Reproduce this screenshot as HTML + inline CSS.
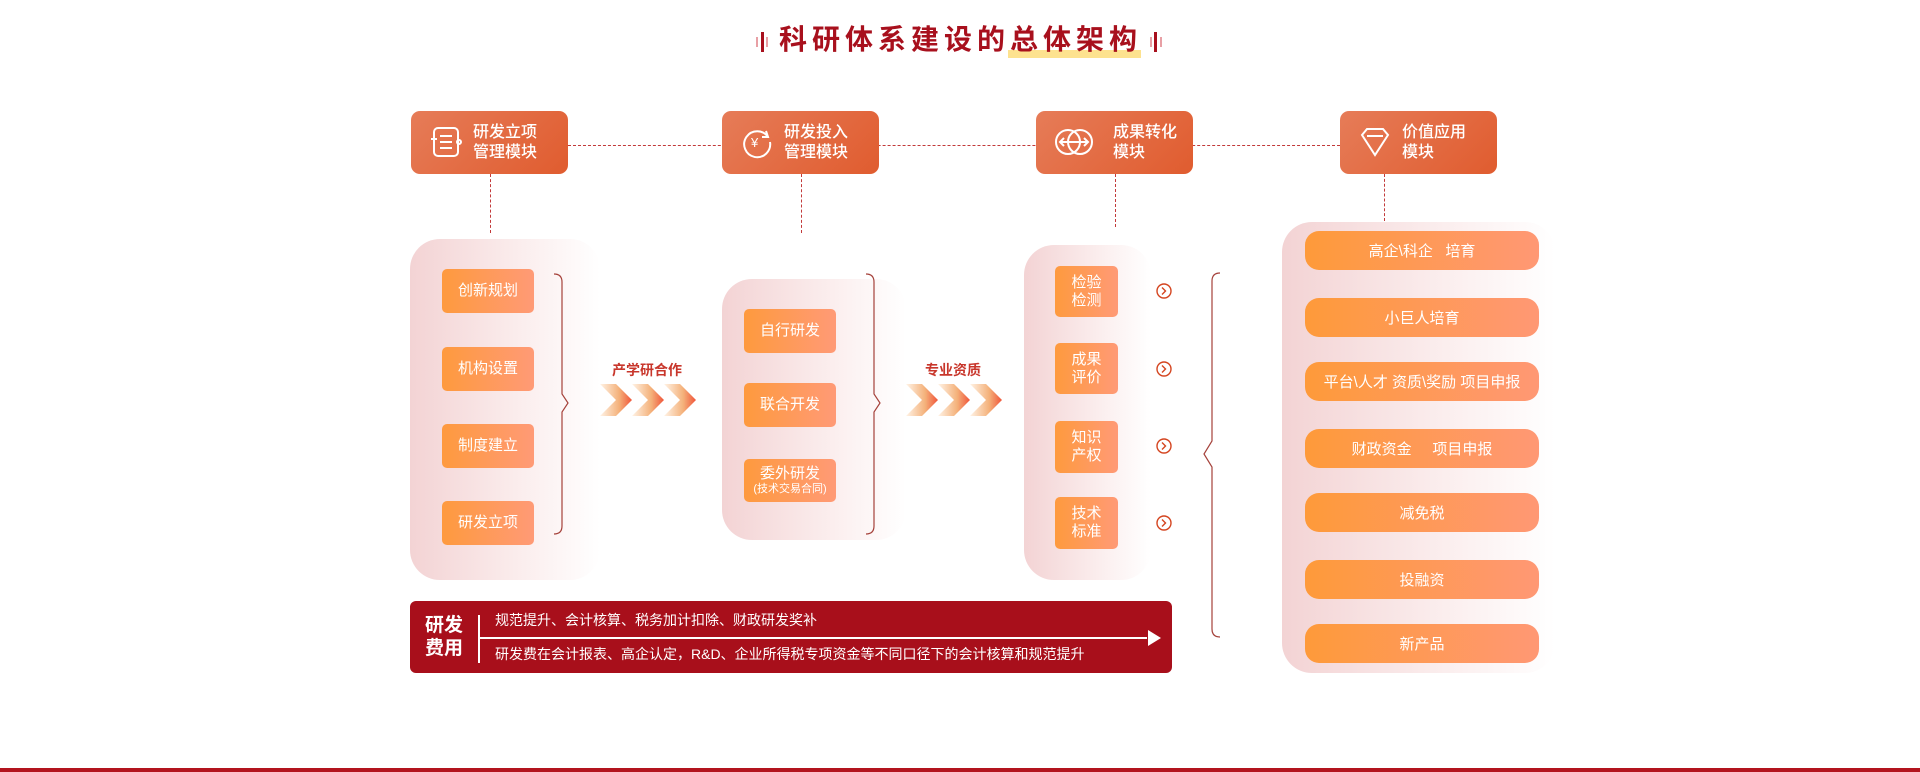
<!DOCTYPE html>
<html><head><meta charset="utf-8"><style>
*{margin:0;padding:0;box-sizing:border-box}
body{width:1920px;height:772px;background:#fff;position:relative;overflow:hidden;font-family:"Liberation Sans","Noto Sans CJK SC",sans-serif}
.a{position:absolute}
.mod{position:absolute;top:111px;width:157px;height:63px;border-radius:9px;background:linear-gradient(135deg,#e67c58,#e05c2f);color:#fff;font-size:16px;line-height:20px;font-weight:500}
.mod .t{position:absolute;left:62px;top:12px}
.mod svg{position:absolute;left:18px;top:14px}
.panel{position:absolute;border-radius:30px;background:linear-gradient(90deg,#f3d3d4,#fbeeee 60%,#fff)}
.it{position:absolute;border-radius:5px;background:linear-gradient(90deg,#fe9a3e,#ff9a76);color:#fff;font-size:15px;display:flex;align-items:center;justify-content:center;text-align:center;line-height:18px}
.pill{position:absolute;left:1305px;width:234px;height:39px;border-radius:14px;background:linear-gradient(90deg,#fe9a3a,#ff9874);color:#fff;font-size:15px;display:flex;align-items:center;justify-content:center;white-space:pre}
.vd{position:absolute;width:0;border-left:1.3px dashed #c23a3a}
.lbl{position:absolute;color:#c8362b;font-size:14px;font-weight:bold;transform:translateX(-50%)}
</style></head><body>
<!-- title -->
<div class="a" style="left:1008px;top:50px;width:133px;height:8px;background:#fde28f"></div>
<div class="a" style="left:779px;top:20px;width:370px;font-size:28px;font-weight:bold;color:#a8101d;letter-spacing:5px;line-height:40px;white-space:nowrap">科研体系建设的总体架构</div>
<svg class="a" style="left:756px;top:31px" width="14" height="22"><rect x="0" y="6" width="2" height="10" fill="#e8a0a5"/><rect x="5" y="1" width="3" height="20" fill="#a8101d"/><rect x="10" y="6" width="2" height="10" fill="#e8a0a5"/></svg>
<svg class="a" style="left:1150px;top:31px" width="14" height="22"><rect x="0" y="6" width="2" height="10" fill="#e8a0a5"/><rect x="4" y="1" width="3" height="20" fill="#a8101d"/><rect x="10" y="6" width="2" height="10" fill="#e8a0a5"/></svg>

<!-- dashed horizontal -->
<div class="a" style="left:568px;top:145px;width:772px;border-top:1.3px dashed #c23a3a"></div>
<div class="vd" style="left:490px;top:174px;height:59px"></div>
<div class="vd" style="left:801px;top:174px;height:59px"></div>
<div class="vd" style="left:1115px;top:174px;height:53px"></div>
<div class="vd" style="left:1384px;top:174px;height:47px"></div>

<div class="mod" style="left:411px"><svg width="34" height="34" viewBox="0 0 34 34" fill="none" stroke="#fff" stroke-width="2"><rect x="5" y="3" width="24" height="28" rx="4"/><line x1="11" y1="11" x2="23" y2="11"/><line x1="11" y1="17" x2="23" y2="17"/><line x1="11" y1="23" x2="23" y2="23"/><line x1="2" y1="14" x2="8" y2="14"/><circle cx="30" cy="17" r="2"/></svg><div class="t">研发立项<br>管理模块</div></div>
<div class="mod" style="left:722px"><svg width="34" height="34" viewBox="0 0 34 34" fill="none" stroke="#fff" stroke-width="2"><path d="M28 12 A13 13 0 1 0 30 17"/><path d="M26 6 L28 12 L22 12"/><text x="11" y="22" font-size="13" fill="#fff" stroke="none" font-family="Liberation Sans">¥</text></svg><div class="t">研发投入<br>管理模块</div></div>
<div class="mod" style="left:1036px"><svg width="40" height="34" viewBox="0 0 40 34" fill="none" stroke="#fff" stroke-width="2"><circle cx="14" cy="17" r="12"/><circle cx="26" cy="17" r="12"/><line x1="6" y1="17" x2="34" y2="17"/><path d="M10 13 L6 17 L10 21 M30 13 L34 17 L30 21"/></svg><div class="t" style="left:77px">成果转化<br>模块</div></div>
<div class="mod" style="left:1340px"><svg width="34" height="34" viewBox="0 0 34 34" fill="none" stroke="#fff" stroke-width="2"><path d="M4 10 L9 4 H25 L30 10 L17 30 Z"/><line x1="9" y1="11" x2="25" y2="11"/></svg><div class="t">价值应用<br>模块</div></div>

<!-- panel 1 -->
<div class="panel" style="left:410px;top:239px;width:190px;height:341px"></div>
<div class="it" style="left:442px;top:269px;width:92px;height:44px">创新规划</div>
<div class="it" style="left:442px;top:347px;width:92px;height:44px">机构设置</div>
<div class="it" style="left:442px;top:424px;width:92px;height:44px">制度建立</div>
<div class="it" style="left:442px;top:501px;width:92px;height:44px">研发立项</div>
<svg class="a" style="left:552px;top:272px" width="26" height="266"><path d="M2 2 Q10 2 10 10 V122 L16 131 L10 140 V254 Q10 262 2 262" fill="none" stroke="#a5413a" stroke-width="1.2"/></svg>
<div class="lbl" style="left:647px;top:360px">产学研合作</div>
<svg class="a" style="left:600px;top:384px" width="100" height="32"><defs><linearGradient id="g1" x1="0" x2="1"><stop offset="0" stop-color="#fff3e6"/><stop offset=".6" stop-color="#f4b17a"/><stop offset="1" stop-color="#f0553a"/></linearGradient></defs>
<g fill="url(#g1)"><path d="M0 0H16L32 16L16 32H0L16 16Z"/><path d="M32 0H48L64 16L48 32H32L48 16Z"/><path d="M64 0H80L96 16L80 32H64L80 16Z"/></g>
<g fill="none" stroke="#fff" stroke-width="1"><path d="M20 0L36 16L20 32M52 0L68 16L52 32M84 0L100 16L84 32"/></g></svg>

<!-- panel 2 -->
<div class="panel" style="left:722px;top:279px;width:184px;height:261px"></div>
<div class="it" style="left:744px;top:309px;width:92px;height:44px">自行研发</div>
<div class="it" style="left:744px;top:383px;width:92px;height:44px">联合开发</div>
<div class="it" style="left:744px;top:459px;width:92px;height:43px;flex-direction:column"><span>委外研发</span><span style="font-size:11px;line-height:13px">(技术交易合同)</span></div>
<svg class="a" style="left:864px;top:272px" width="26" height="266"><path d="M2 2 Q10 2 10 10 V122 L16 131 L10 140 V254 Q10 262 2 262" fill="none" stroke="#a5413a" stroke-width="1.2"/></svg>
<div class="lbl" style="left:953px;top:360px">专业资质</div>
<svg class="a" style="left:906px;top:384px" width="100" height="32"><g fill="url(#g1)"><path d="M0 0H16L32 16L16 32H0L16 16Z"/><path d="M32 0H48L64 16L48 32H32L48 16Z"/><path d="M64 0H80L96 16L80 32H64L80 16Z"/></g>
<g fill="none" stroke="#fff" stroke-width="1"><path d="M20 0L36 16L20 32M52 0L68 16L52 32M84 0L100 16L84 32"/></g></svg>

<!-- panel 3 -->
<div class="panel" style="left:1024px;top:245px;width:127px;height:335px"></div>
<div class="it" style="left:1055px;top:266px;width:63px;height:51px">检验<br>检测</div>
<div class="it" style="left:1055px;top:343px;width:63px;height:51px">成果<br>评价</div>
<div class="it" style="left:1055px;top:421px;width:63px;height:52px">知识<br>产权</div>
<div class="it" style="left:1055px;top:497px;width:63px;height:52px">技术<br>标准</div>
<svg class="a" style="left:1155px;top:283px" width="18" height="250" fill="none" stroke="#d4441f" stroke-width="1.4">
<circle cx="9" cy="8" r="7"/><path d="M7 4.5L10.5 8L7 11.5"/>
<circle cx="9" cy="86" r="7"/><path d="M7 82.5L10.5 86L7 89.5"/>
<circle cx="9" cy="163" r="7"/><path d="M7 159.5L10.5 163L7 166.5"/>
<circle cx="9" cy="240" r="7"/><path d="M7 236.5L10.5 240L7 243.5"/></svg>
<svg class="a" style="left:1198px;top:271px" width="26" height="370"><path d="M22 2 Q14 2 14 10 V170 L6 183 L14 196 V358 Q14 366 22 366" fill="none" stroke="#a5413a" stroke-width="1.2"/></svg>

<!-- panel 4 -->
<div class="panel" style="left:1282px;top:222px;width:273px;height:451px"></div>
<div class="pill" style="top:231px">高企\科企   培育</div>
<div class="pill" style="top:298px">小巨人培育</div>
<div class="pill" style="top:362px">平台\人才 资质\奖励 项目申报</div>
<div class="pill" style="top:429px">财政资金     项目申报</div>
<div class="pill" style="top:493px">减免税</div>
<div class="pill" style="top:560px">投融资</div>
<div class="pill" style="top:624px">新产品</div>

<!-- bottom box -->
<div class="a" style="left:410px;top:601px;width:762px;height:72px;border-radius:6px;background:#a80f1b"></div>
<div class="a" style="left:425px;top:614px;color:#fff;font-size:19px;font-weight:bold;line-height:23px">研发<br>费用</div>
<div class="a" style="left:478px;top:615px;width:2px;height:48px;background:#fff"></div>
<div class="a" style="left:480px;top:637px;width:667px;height:2px;background:#fff"></div>
<svg class="a" style="left:1148px;top:630px" width="14" height="16"><path d="M0 0L13 8L0 16Z" fill="#fff"/></svg>
<div class="a" style="left:495px;top:611px;color:#fff;font-size:14px;line-height:18px">规范提升、会计核算、税务加计扣除、财政研发奖补</div>
<div class="a" style="left:495px;top:645px;color:#fff;font-size:14px;line-height:18px">研发费在会计报表、高企认定，R&amp;D、企业所得税专项资金等不同口径下的会计核算和规范提升</div>

<div class="a" style="left:0;top:768px;width:1920px;height:4px;background:#b3141e"></div>
</body></html>
